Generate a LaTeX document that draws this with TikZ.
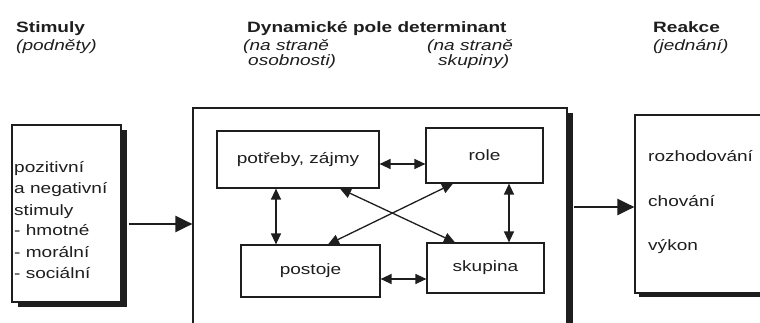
\documentclass[tikz,border=0pt]{standalone}
\usepackage{fontspec}
\setmainfont{Liberation Sans}[FakeStretch=1.27]
\usetikzlibrary{arrows.meta,shadows,calc}
\definecolor{ink}{HTML}{1E1E1E}
\newcommand\myfs{\fontsize{15}{18}\selectfont}
\begin{document}
\begin{tikzpicture}[x=1pt,y=-1pt,
  box/.style={draw=ink, line width=1.2pt, fill=white, inner sep=0pt},
  shad/.style={drop shadow={shadow xshift=#1, shadow yshift=-5pt, fill=ink, opacity=1}},
  txt/.style={anchor=base west, inner sep=0pt, text=ink, font=\myfs},
  hd/.style={txt, font=\myfs\bfseries},
  it/.style={txt, font=\myfs\itshape},
  dbl/.style={draw=ink, line width=1.3pt, {Triangle[length=11pt,width=10pt]}-{Triangle[length=11pt,width=10pt]}},
  bigarr/.style={draw=ink, line width=2.5pt, -{Triangle[length=17pt,width=16pt]}}]
\clip (0,0) rectangle (760,323);
\fill[white] (0,0) rectangle (760,323);

% headers
\node[hd] (h1) at (16,33) {Stimuly};
\node[it] (h1b) at (16,51) {(podněty)};
\node[hd] (h2) at (247,33) {Dynamické pole determinant};
\node[it] (h2a) at (243,51) {(na straně};
\node[it] (h2b) at (248,66) {osobnosti)};
\node[it] (h2c) at (427,51) {(na straně};
\node[it] (h2d) at (438,66) {skupiny)};
\node[hd] (h3) at (653,33) {Reakce};
\node[it] (h3b) at (653,51) {(jednání)};

% left box
\node[box, shad=6pt, minimum width=109pt, minimum height=177pt] (stim) at (66.5,213.5) {};
\node[txt] (s1) at (14,173) {pozitivní};
\node[txt] (s2) at (14,194) {a negativní};
\node[txt] (s3) at (14,215) {stimuly};
\node[txt] (s4) at (14,236) {- hmotné};
\node[txt] (s5) at (14,257) {- morální};
\node[txt] (s6) at (14,278) {- sociální};

% big box
\node[box, shad=6pt, minimum width=374pt, minimum height=232pt] (dyn) at (380,224) {};

% inner boxes
\node[box, font=\myfs, text=ink, minimum width=162pt, minimum height=57pt] (pz) at (298,159.5) {potřeby, zájmy};
\node[box, font=\myfs, text=ink, minimum width=117pt, minimum height=55pt] (role) at (484.5,155.5) {role};
\node[box, font=\myfs, text=ink, minimum width=139pt, minimum height=52pt] (post) at (310.5,271) {postoje};
\node[box, font=\myfs, text=ink, minimum width=117pt, minimum height=50pt] (skup) at (485.5,268) {skupina};

% right box
\node[box, drop shadow={shadow xshift=4pt, shadow yshift=-4pt, fill=ink, opacity=1}, minimum width=155pt, minimum height=178pt] (react) at (712.5,204) {};
\node[txt] (r1) at (648,162) {rozhodování};
\node[txt] (r2) at (648,207) {chování};
\node[txt] (r3) at (648,250) {výkon};

% inner connectors
\draw[dbl] ([yshift=-4.5pt]pz.east) -- ([yshift=-4.5pt]pz.east -| role.west);
\draw[dbl] ([yshift=-8pt]post.east) -- ([yshift=-8pt]post.east -| skup.west);
\draw[dbl] ([xshift=-22pt]pz.south) -- ([xshift=-22pt]pz.south |- post.north);
\draw[dbl] ([xshift=24.5pt]role.south) -- ([xshift=24.5pt]role.south |- skup.north);
\draw[dbl] ([xshift=42pt]pz.south) -- ([xshift=-30.5pt]skup.north);
\draw[dbl] ([xshift=-31.5pt]role.south) -- ([xshift=17.5pt]post.north);

% main arrows
\draw[bigarr] ([xshift=7pt]stim.east |- dyn.west) -- (dyn.west);
\draw[bigarr] ([xshift=6pt,yshift=-3pt]dyn.east |- react.west) -- ([yshift=-3pt]react.west);
\end{tikzpicture}
\end{document}
